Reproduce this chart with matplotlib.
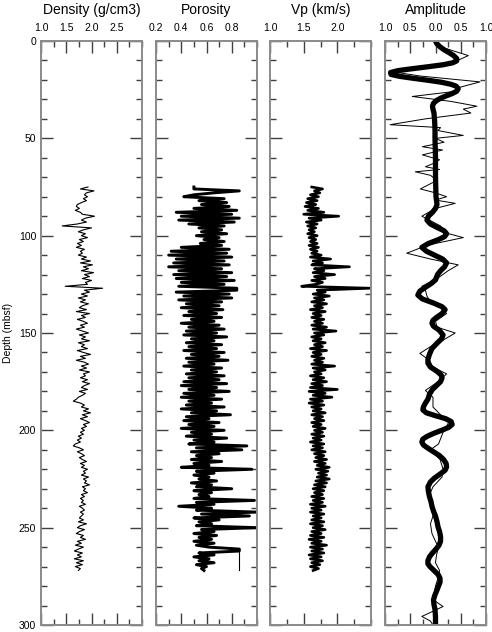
import numpy as np
import matplotlib
matplotlib.use("Agg")
import matplotlib.pyplot as plt
from matplotlib.ticker import MultipleLocator, FixedLocator

plt.rcParams['font.family'] = ['Liberation Sans', 'DejaVu Sans']

# ---- data ----
# logs sampled every 1 m from 75 to 272 mbsf
log_top = 75
log_bottom = 272

density = [
    1.93, 1.78, 2.05, 1.90, 1.86, 1.92, 1.84, 1.90, 1.80, 1.72,
    1.70, 1.76, 1.68, 1.78, 1.82, 2.06, 1.88, 1.80, 1.90, 1.72,
    1.42, 2.00, 1.84, 1.74, 1.88, 1.80, 1.92, 1.76, 1.84, 1.72,
    1.80, 1.70, 1.86, 1.78, 1.82, 1.74, 1.90, 1.80, 1.98, 1.78,
    2.02, 1.84, 1.94, 1.80, 2.04, 1.86, 1.96, 1.82, 2.00, 1.88,
    1.92, 1.48, 2.22, 1.86, 1.96, 1.80, 1.92, 1.74, 1.88, 1.78,
    1.94, 1.82, 1.76, 1.90, 1.70, 1.96, 1.80, 1.88, 1.72, 1.84,
    1.92, 1.78, 1.86, 1.70, 1.82, 1.94, 1.76, 1.88, 1.80, 1.96,
    1.74, 1.86, 1.80, 1.92, 1.72, 1.84, 1.98, 1.78, 1.88, 1.70,
    1.86, 1.94, 1.80, 1.90, 1.76, 1.96, 1.84, 1.88, 1.78, 1.92,
    1.82, 1.96, 1.86, 1.80, 1.92, 1.76, 1.88, 1.82, 1.74, 1.70,
    1.64, 1.78, 1.86, 1.80, 1.94, 1.84, 1.98, 1.82, 1.92, 1.78,
    1.88, 1.96, 1.84, 1.90, 1.80, 1.86, 1.78, 1.84, 1.74, 1.80,
    1.72, 1.78, 1.68, 1.64, 1.76, 1.84, 1.72, 1.80, 1.86, 1.76,
    1.82, 1.90, 1.78, 1.86, 1.80, 1.92, 1.84, 1.88, 1.80, 1.94,
    1.84, 1.90, 1.86, 1.96, 1.82, 1.88, 1.84, 1.92, 1.80, 1.86,
    1.78, 1.84, 1.80, 1.88, 1.76, 1.82, 1.86, 1.78, 1.84, 1.80,
    1.76, 1.84, 1.74, 1.90, 1.78, 1.72, 1.86, 1.76, 1.70, 1.84,
    1.78, 1.88, 1.72, 1.80, 1.68, 1.84, 1.74, 1.66, 1.82, 1.72,
    1.80, 1.66, 1.84, 1.70, 1.82, 1.68, 1.78, 1.74,
]

porosity = [
    0.50, 0.50, 0.86, 0.66, 0.50, 0.42, 0.74, 0.54, 0.76, 0.56,
    0.78, 0.50, 0.84, 0.36, 0.80, 0.40, 0.86, 0.38, 0.82, 0.46,
    0.74, 0.54, 0.72, 0.56, 0.76, 0.52, 0.70, 0.58, 0.74, 0.55,
    0.72, 0.40, 0.78, 0.32, 0.76, 0.30, 0.80, 0.36, 0.74, 0.34,
    0.78, 0.30, 0.72, 0.38, 0.80, 0.34, 0.76, 0.36, 0.82, 0.40,
    0.74, 0.38, 0.84, 0.84, 0.36, 0.78, 0.42, 0.80, 0.38, 0.72,
    0.44, 0.70, 0.40, 0.73, 0.46, 0.68, 0.42, 0.72, 0.48, 0.66,
    0.40, 0.70, 0.46, 0.74, 0.44, 0.68, 0.42, 0.76, 0.48, 0.66,
    0.44, 0.72, 0.46, 0.68, 0.42, 0.74, 0.48, 0.70, 0.44, 0.77,
    0.46, 0.66, 0.42, 0.72, 0.48, 0.68, 0.44, 0.74, 0.46, 0.70,
    0.42, 0.76, 0.40, 0.68, 0.46, 0.78, 0.42, 0.66, 0.40, 0.72,
    0.46, 0.64, 0.44, 0.74, 0.40, 0.68, 0.48, 0.79, 0.44, 0.62,
    0.42, 0.70, 0.46, 0.66, 0.40, 0.74, 0.48, 0.64, 0.44, 0.76,
    0.50, 0.66, 0.46, 0.92, 0.52, 0.88, 0.48, 0.70, 0.52, 0.64,
    0.48, 0.72, 0.50, 0.62, 0.40, 0.96, 0.52, 0.66, 0.50, 0.62,
    0.54, 0.68, 0.48, 0.64, 0.52, 0.80, 0.50, 0.64, 0.54, 0.62,
    0.50, 0.98, 0.52, 0.66, 0.38, 0.64, 0.52, 1.00, 0.56, 0.94,
    0.50, 0.70, 0.54, 0.64, 0.52, 1.00, 0.56, 0.66, 0.50, 0.68,
    0.54, 0.64, 0.50, 0.66, 0.52, 0.62, 0.86, 0.86, 0.54, 0.66,
    0.50, 0.62, 0.54, 0.66, 0.52, 0.60, 0.56, 0.58,
]
porosity_tail_depth = [261, 272]
porosity_tail = [0.86, 0.86]

vp = [
    1.62, 1.78, 1.66, 1.74, 1.60, 1.72, 1.56, 1.70, 1.54, 1.68,
    1.52, 1.72, 1.56, 1.80, 1.50, 2.02, 1.58, 1.76, 1.54, 1.70,
    1.56, 1.68, 1.58, 1.66, 1.56, 1.70, 1.58, 1.68, 1.60, 1.70,
    1.58, 1.72, 1.60, 1.70, 1.62, 1.76, 1.60, 1.90, 1.64, 1.78,
    1.62, 2.18, 1.66, 1.80, 1.64, 1.96, 1.66, 1.82, 1.62, 1.78,
    1.68, 1.47, 2.49, 1.70, 1.82, 1.64, 1.88, 1.66, 1.80, 1.62,
    1.84, 1.66, 1.78, 1.60, 1.82, 1.64, 1.76, 1.62, 1.80, 1.66,
    1.78, 1.62, 1.84, 1.64, 1.98, 1.66, 1.80, 1.62, 1.76, 1.64,
    1.82, 1.66, 1.78, 1.60, 1.84, 1.64, 1.76, 1.62, 1.80, 1.66,
    1.78, 1.62, 1.96, 1.64, 1.82, 1.66, 1.76, 1.60, 1.80, 1.64,
    1.84, 1.62, 1.78, 1.60, 2.00, 1.58, 1.82, 1.64, 1.92, 1.60,
    1.78, 1.58, 1.80, 1.62, 1.76, 1.64, 1.82, 1.62, 1.78, 1.66,
    1.80, 1.62, 1.76, 1.64, 1.82, 1.66, 1.78, 1.62, 1.80, 1.64,
    1.76, 1.60, 1.80, 1.64, 1.78, 1.62, 1.82, 1.66, 1.80, 1.68,
    1.84, 1.66, 1.82, 1.70, 1.88, 1.68, 1.86, 1.72, 1.84, 1.70,
    1.88, 1.68, 1.84, 1.66, 1.82, 1.64, 1.80, 1.66, 1.78, 1.62,
    1.80, 1.64, 1.78, 1.60, 1.82, 1.62, 1.76, 1.60, 1.80, 1.64,
    1.76, 1.62, 1.80, 1.60, 1.78, 1.64, 1.82, 1.62, 1.76, 1.60,
    1.80, 1.58, 1.76, 1.62, 1.84, 1.60, 1.78, 1.62, 1.80, 1.58,
    1.76, 1.60, 1.78, 1.62, 1.74, 1.60, 1.72, 1.64,
]

# seismic trace (thin) and synthetic (thick)
trace_depth = [0, 3, 7.5, 11, 13, 16, 18, 21, 24, 26, 28.5, 31, 33.5, 35, 37, 40, 43,
               44.5, 46, 48.5, 50, 52, 54.3, 56, 58.5, 61, 63, 64.6, 66, 67.2, 69, 71.6,
               74, 76, 78, 80, 81.7, 83.4, 86, 90, 95, 98.7, 101, 104, 106, 109, 112, 115,
               118, 122.7, 126, 128, 131, 134, 137, 140, 144, 147, 150, 154, 157, 160.5,
               164, 167.5, 171, 175, 179.5, 183, 188, 192, 196, 201, 207, 210, 215, 220,
               224, 229, 232, 236, 240, 244, 248, 253, 257, 260, 264, 268, 272, 275, 280,
               287, 290.5, 295.6, 298, 300]
trace_amp = [0.00, 0.10, 0.65, 0.35, -0.20, -0.80, -0.30, 0.88, 0.45, 0.35, -0.46, 0.30,
             0.82, 0.55, 0.70, -0.20, -0.90, 0.10, 0.05, 0.55, 0.00, 0.17, -0.26, 0.14,
             -0.26, 0.08, -0.05, -0.20, 0.08, -0.40, -0.10, 0.03, -0.15, -0.30, 0.00, 0.22,
             0.00, 0.39, 0.00, -0.27, 0.10, 0.22, 0.55, 0.00, -0.27, -0.57, -0.10, 0.45,
             0.25, 0.00, -0.27, -0.20, -0.17, -0.10, 0.10, 0.22, 0.00, 0.03, 0.39, 0.13,
             -0.10, -0.31, -0.12, -0.05, 0.22, 0.05, -0.20, -0.05, -0.05, 0.10, 0.26, 0.15,
             0.06, -0.10, 0.09, 0.15, 0.13, -0.05, -0.10, -0.10, -0.08, -0.05, -0.10, -0.07,
             0.00, 0.06, 0.02, 0.00, 0.08, 0.06, 0.00, -0.05, 0.15, -0.27, -0.10, -0.05]

synth_depth = [0, 1.5, 3, 4.5, 6, 7.5, 9, 10.2, 11.2, 12.2, 13.2, 14.2, 15.2, 16.2, 17.2,
               18.2, 19.2, 20.2, 21.2, 22.2, 23.2, 24.5, 25.8, 27, 28.2, 29.4, 30.6, 32,
               33.5, 35, 37, 40, 45, 50, 60, 70, 80, 84, 86, 88, 90, 92, 94, 96, 97.5, 99,
               100.5, 102, 104, 106, 108, 110, 112, 114, 116, 118, 120, 122.7, 124.5,
               126.5, 128.5, 130.5, 132.5, 134.5, 136.5, 138, 140, 142, 143.5, 145, 146.5,
               148.5, 151, 153, 155.5, 158, 161, 163.5, 165.5, 167.5, 169.5, 171.5, 173,
               175, 177, 179, 181.5, 184, 186, 188, 189.5, 191, 192.5, 194, 195.5, 197,
               198.5, 200, 201.5, 203, 204.5, 206, 207.5, 209, 211, 213, 215, 217, 218.8,
               220.5, 222.5, 224.5, 226.5, 229, 231.5, 234, 236.5, 239, 241.5, 244, 247,
               249.6, 252, 254.5, 257, 259, 261, 263, 265, 267, 268.5, 270, 272, 274, 276,
               278, 280, 282, 284.5, 287, 289.5, 292, 296, 300]
synth_amp = [0.00, 0.03, 0.09, 0.17, 0.27, 0.36, 0.42, 0.42, 0.34, 0.15, -0.14, -0.45,
             -0.74, -0.89, -0.88, -0.70, -0.43, -0.14, 0.12, 0.30, 0.41, 0.45, 0.42, 0.33,
             0.21, 0.10, 0.02, -0.04, -0.06, -0.05, -0.03, -0.02, -0.01, -0.01, 0.00, 0.00,
             0.01, 0.03, 0.00, -0.06, -0.14, -0.17, -0.10, 0.05, 0.17, 0.22, 0.18, 0.06,
             -0.14, -0.27, -0.18, -0.02, 0.14, 0.22, 0.18, 0.10, 0.04, 0.00, -0.08, -0.20,
             -0.31, -0.35, -0.26, -0.05, 0.13, 0.19, 0.13, 0.02, -0.05, -0.07, -0.04, 0.07,
             0.15, 0.12, 0.02, -0.07, -0.12, -0.15, -0.15, -0.10, 0.02, 0.11, 0.13, 0.10,
             0.02, -0.06, -0.12, -0.15, -0.20, -0.24, -0.25, -0.18, 0.00, 0.20, 0.31, 0.33,
             0.26, 0.12, -0.03, -0.16, -0.25, -0.27, -0.24, -0.16, -0.04, 0.08, 0.16, 0.21,
             0.22, 0.19, 0.09, -0.02, -0.10, -0.15, -0.14, -0.12, -0.09, -0.07, -0.04, 0.00,
             0.03, 0.05, 0.08, 0.10, 0.10, 0.07, 0.01, -0.06, -0.12, -0.15, -0.15, -0.11,
             -0.03, 0.05, 0.09, 0.09, 0.06, 0.03, -0.01, -0.04, -0.03, -0.01, 0.00, 0.00]

titles = ["Density (g/cm3)", "Porosity", "Vp (km/s)", "Amplitude"]
xlims = [(1.0, 3.0), (0.2, 1.0), (1.0, 2.5), (-1.0, 1.0)]
xmajor = [[1.0, 1.5, 2.0, 2.5], [0.2, 0.4, 0.6, 0.8], [1.0, 1.5, 2.0], [-1.0, -0.5, 0.0, 0.5, 1.0]]
xlabels = [["1.0", "1.5", "2.0", "2.5"], ["0.2", "0.4", "0.6", "0.8"],
           ["1.0", "1.5", "2.0"], ["1.0", "0.5", "0.0", "0.5", "1.0"]]
xminor = [0.25, 0.1, 0.25, 0.25]

# ---- figure ----
W, H = 492, 632
fig = plt.figure(figsize=(W / 100, H / 100), dpi=100)
lefts = [41, 156, 270, 385]
spine_col = '#8a8a8a'
tick_col = '#404040'

depth = np.arange(log_top, log_bottom + 1)
axes = []
for i, left in enumerate(lefts):
    ax = fig.add_axes([left / W, (H - 625) / H, 101 / W, 584 / H])
    axes.append(ax)
    ax.set_xlim(*xlims[i])
    ax.set_ylim(300, 0)
    ax.xaxis.set_major_locator(FixedLocator(xmajor[i]))
    labs = ax.set_xticklabels(xlabels[i])
    if i == 3:
        labs[0].set_ha('right')
        labs[-1].set_ha('right')
        labs[0].set_x(-1.0)
    ax.xaxis.set_minor_locator(MultipleLocator(xminor[i]))
    ax.yaxis.set_major_locator(MultipleLocator(50))
    ax.yaxis.set_minor_locator(MultipleLocator(10))
    ax.tick_params(which='both', direction='in', top=True, bottom=True, left=True, right=True,
                   labeltop=True, labelbottom=False, labelleft=(i == 0), labelright=False,
                   color=tick_col, width=1.0, labelsize=7.5)
    ax.tick_params(which='major', length=8.5)
    ax.tick_params(which='minor', length=4.5)
    ax.tick_params(axis='x', which='major', pad=6)
    ax.tick_params(axis='y', which='major', pad=3.5)
    for s in ax.spines.values():
        s.set_color(spine_col)
        s.set_linewidth(1.4)
    ax.text(0.5, 1 + 31 / 584, titles[i], transform=ax.transAxes, ha='center', va='center',
            fontsize=10)

axes[0].plot(density, depth, color='black', lw=0.8)
axes[1].plot(porosity, depth, color='black', lw=2.1)
axes[1].plot(porosity_tail, porosity_tail_depth, color='black', lw=0.8)
axes[2].plot(vp, depth, color='black', lw=1.9)
axes[3].plot(trace_amp, trace_depth, color='black', lw=0.7)
axes[3].plot(synth_amp, synth_depth, color='black', lw=3.8, solid_capstyle='round',
             solid_joinstyle='round')

axes[0].set_ylabel("Depth (mbsf)", fontsize=7.5)
axes[0].yaxis.set_label_coords(-28 / 101, 0.5)

fig.savefig("out.png", dpi=100)
